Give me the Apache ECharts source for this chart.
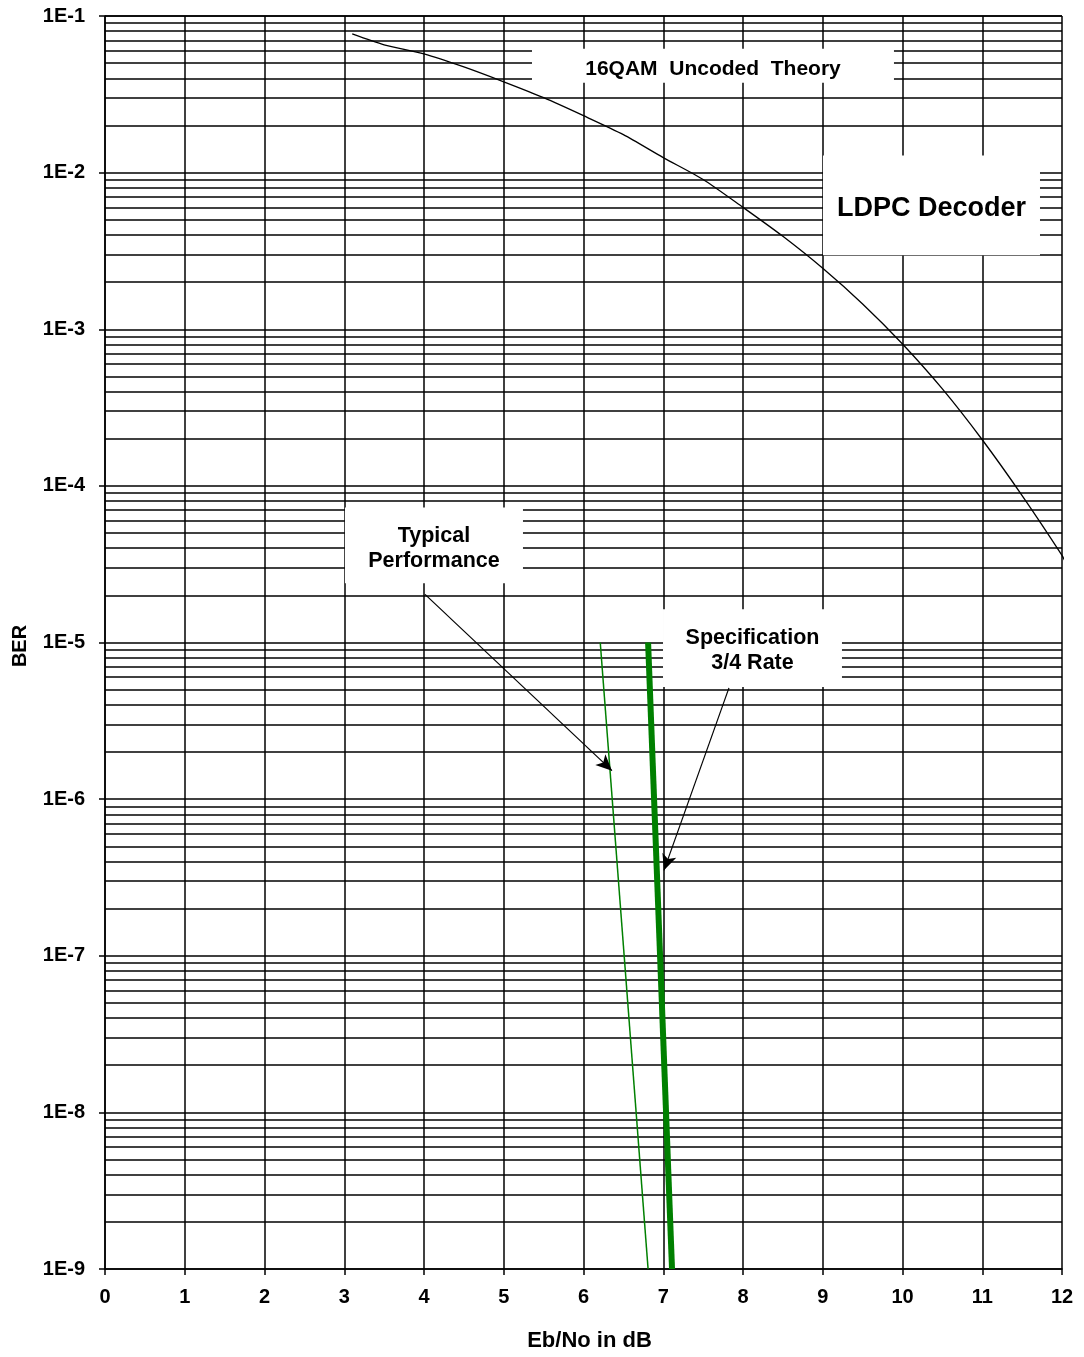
<!DOCTYPE html>
<html>
<head>
<meta charset="utf-8">
<script src="https://cdn.jsdelivr.net/npm/echarts@6/dist/echarts.min.js"></script>
<style>
html,body{margin:0;padding:0;background:#fff;}
#c{width:1084px;height:1357px;}
</style>
</head>
<body>
<div id="c"></div>
<script>
// ---- data ----
var xTicks = [0,1,2,3,4,5,6,7,8,9,10,11,12];
var decades = [-9,-8,-7,-6,-5,-4,-3,-2,-1];
var uncodedX = [3.1,3.5,4.0,4.5,5.0,5.5,6.0,6.5,7.0,7.5,8.0,8.5,9.0,9.5,10.0,10.5,11.0,11.5,12.0,12.05];
var uncodedBER = [0.0768,0.0655,0.0573,0.0473,0.0380,0.0301,0.0231,0.01748,0.01247,0.00904,0.00600,0.00392,0.00245,0.00145,8.05e-4,4.16e-4,1.97e-4,8.67e-5,3.6e-5,3.2e-5];
var typicalX = [6.21,6.81];
var typicalBER = [1e-5,1e-9];
var specX = [6.81,7.11];
var specBER = [1e-5,1e-9];

// annotation boxes [x1, y1, x2, y2] in data units, and their texts
var boxCoords = [
  [5.354, 0.0617, 9.893, 0.03746],
  [9.003, 0.01285, 11.724, 0.002965],
  [3.009, 7.28e-5, 5.241, 2.39e-5],
  [6.997, 1.633e-5, 9.241, 5.2e-6]
];
var boxTexts = ['16QAM  Uncoded  Theory', 'LDPC Decoder', 'Typical\nPerformance', 'Specification\n3/4 Rate'];
var boxFont = [21, 27, 21.5, 21.5];
// arrows [fromX, fromY, toX, toY, curveness]
var arrows = [
  [4.013, 2.03e-5, 6.357, 1.52e-6, 0],
  [7.824, 5.13e-6, 7.009, 3.51e-7, -0.06]
];

function zip(xs, ys){ return xs.map(function(x,i){ return [x, ys[i]]; }); }

var minorLines = [];
decades.slice(0,-1).forEach(function(e){
  for (var m = 2; m <= 9; m++) {
    var v = m * Math.pow(10, e);
    minorLines.push([{ coord: [0, v] }, { coord: [12, v] }]);
  }
});

var FONT = '"Liberation Sans", Arial, sans-serif';

var chart = echarts.init(document.getElementById('c'), null, {renderer:'canvas'});
chart.setOption({
  backgroundColor: '#fff',
  animation: false,
  grid: { left: 105, right: 22, top: 16, bottom: 84, containLabel: false },
  xAxis: {
    type: 'value', min: 0, max: 12, interval: 1,
    name: 'Eb/No in dB', nameLocation: 'middle', nameGap: 61,
    nameTextStyle: { fontFamily: FONT, fontWeight: 'bold', fontSize: 22, color: '#000', padding: [0, 0, 0, 12] },
    axisLine: { show: true, onZero: false, lineStyle: { color: '#000', width: 1.5 } },
    axisTick: { show: true, length: 6, lineStyle: { color: '#000', width: 1.5 } },
    axisLabel: { margin: 18, fontFamily: FONT, fontWeight: 'bold', fontSize: 20, color: '#000',
      formatter: function(v){ return xTicks.indexOf(v) >= 0 ? String(v) : ''; } },
    splitLine: { show: true, lineStyle: { color: '#000', width: 1.5 } }
  },
  yAxis: {
    type: 'log', logBase: 10, min: 1e-9, max: 1e-1, interval: 1,
    name: 'BER', nameLocation: 'middle', nameGap: 75, nameRotate: 90,
    nameTextStyle: { fontFamily: FONT, fontWeight: 'bold', fontSize: 20, color: '#000', padding: [0, 0, 0, -7] },
    axisLine: { show: true, lineStyle: { color: '#000', width: 1.5 } },
    axisTick: { show: true, length: 6, lineStyle: { color: '#000', width: 1.5 } },
    axisLabel: { margin: 20, fontFamily: FONT, fontWeight: 'bold', fontSize: 20, color: '#000',
      padding: [5, 0, 0, 0],
      formatter: function(v){ return '1E' + Math.round(Math.log10(v)); } },
    splitLine: { show: true, lineStyle: { color: '#000', width: 1.5 } },
    minorTick: { show: false }, minorSplitLine: { show: false }
  },
  series: [
    {
      name: 'minorGrid', type: 'line', data: [], z: 1, silent: true,
      markLine: {
        z: 1, silent: true, symbol: ['none','none'], label: { show: false },
        lineStyle: { color: '#000', width: 1.5, type: 'solid' },
        emphasis: { disabled: true },
        data: minorLines
      }
    },
    {
      name: 'boxes', type: 'line', data: [], z: 3, silent: true,
      markArea: {
        z: 3, silent: true,
        itemStyle: { color: '#fff', borderWidth: 0 },
        emphasis: { disabled: true },
        label: { show: true, position: 'inside', color: '#000', fontFamily: FONT, fontWeight: 'bold', offset: [0, 3] },
        data: boxCoords.map(function(b, i){
          return [
            { coord: [b[0], b[1]], label: { formatter: boxTexts[i], fontSize: boxFont[i], lineHeight: 25 } },
            { coord: [b[2], b[3]] }
          ];
        })
      }
    },
    {
      name: '16QAM Uncoded Theory', type: 'line', z: 5, data: zip(uncodedX, uncodedBER),
      symbol: 'none', clip: false, smooth: 0.25, lineStyle: { color: '#000', width: 1.3 }
    },
    {
      name: 'Typical Performance', type: 'line', z: 5, data: zip(typicalX, typicalBER),
      symbol: 'none', lineStyle: { color: '#008000', width: 1.5 }
    },
    {
      name: 'Specification 3/4 Rate', type: 'line', z: 5, data: zip(specX, specBER),
      symbol: 'none', lineStyle: { color: '#008000', width: 6 }
    },
    {
      name: 'arrows', type: 'line', data: [], z: 6, silent: true,
      markLine: {
        z: 6, silent: true, label: { show: false }, emphasis: { disabled: true },
        symbolSize: [11, 16],
        data: arrows.map(function(a){
          return [
            { coord: [a[0], a[1]], symbol: 'none', lineStyle: { color: '#000', width: 1.2, type: 'solid', curveness: a[4] } },
            { coord: [a[2], a[3]], symbol: 'arrow' }
          ];
        })
      }
    }
  ]
});
</script>
</body>
</html>
